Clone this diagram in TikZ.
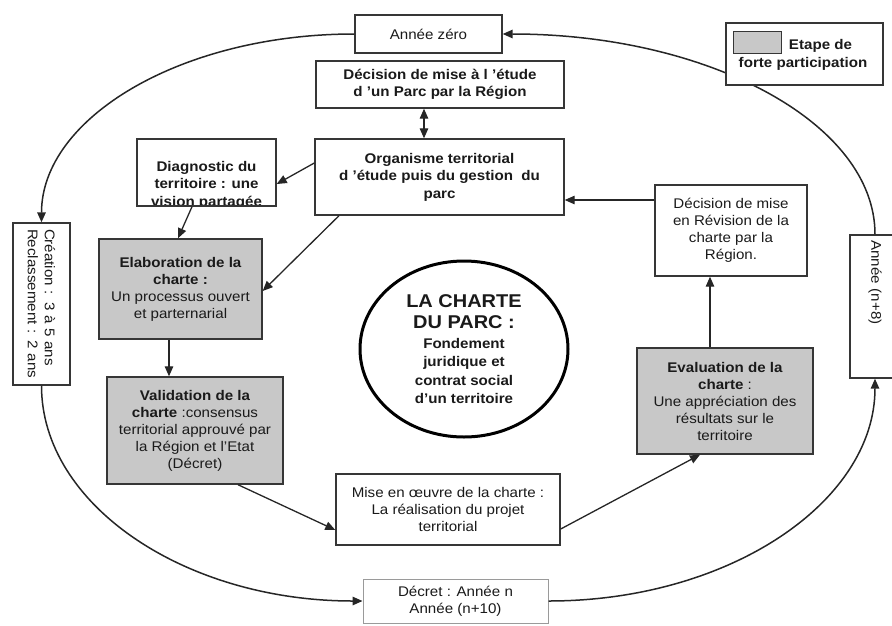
\documentclass[tikz,border=0pt]{standalone}
\usepackage{fontspec}
\setmainfont{Liberation Sans}[FakeStretch=1.08]
\usetikzlibrary{arrows.meta,shapes.geometric}

\definecolor{ink}{HTML}{1A1A1A}
\definecolor{wire}{HTML}{262626}
\definecolor{boxline}{HTML}{363636}
\definecolor{stepfill}{HTML}{C8C8C8}
\definecolor{softline}{HTML}{9A9A9A}

\begin{document}
\begin{tikzpicture}[x=1pt,y=-1pt,
  every node/.style={font=\fontsize{14}{17}\selectfont, text=ink},
  box/.style={draw=boxline, line width=1.4pt, fill=white, align=center, inner sep=2pt},
  stepbox/.style={box, fill=stepfill},
  bf/.style={font=\fontsize{14}{17.5}\selectfont\bfseries},
  tip/.style={-{Triangle[length=10pt,width=8.5pt]}},
  conn/.style={draw=wire, line width=1.3pt, tip},
  cyclearc/.style={draw=wire, line width=1.5pt, tip}
]
\useasboundingbox (0,0) rectangle (892,625);
\clip (0,0) rectangle (892,625);

% ---- milestones on the outer cycle
\node[box, minimum width=147, minimum height=38] (anno) at (428.5,34) {Année zéro};
\node[box, rotate=-90, minimum width=162, minimum height=57, text width=150, align=left]
  (crea) at (41.5,304) {Création : 3 à 5 ans\\Reclassement : 2 ans};
\node[box, draw=softline, line width=1pt, minimum width=185, minimum height=44]
  (decret) at (455.5,601) {Décret : Année n\\Année (n+10)};
\node[box, rotate=-90, minimum width=143, minimum height=50, text width=132, align=left]
  (n8) at (875,306.5) {Année (n+8)};

% ---- outer cycle (quarter-ellipse arcs between milestones)
\draw[cyclearc] (anno.west) .. controls +(-173,0) and +(0,-104.4) .. (crea.west);
\draw[cyclearc] (crea.east) .. controls +(0,119.3) and +(-177.6,0) .. (decret.west);
\draw[cyclearc] (decret.east) .. controls +(180.6,0) and +(0,123.2) .. (n8.east);
\draw[cyclearc] (n8.west) .. controls +(0,-111) and +(206,0) .. (anno.east);

% ---- steps
\node[box, bf, minimum width=248, minimum height=47] (etude) at (440,84.5)
  {Décision de mise à l 'étude\\d 'un Parc par la Région};
\node[box, bf, minimum width=249, minimum height=76] (org) at (439.5,177)
  {Organisme territorial\\d 'étude puis du gestion\ \ du\\parc};
\node[box, minimum width=139, minimum height=67,
  path picture={\node[bf, align=center, anchor=north, inner sep=2pt] (diagtxt)
    at ([yshift=-12pt]path picture bounding box.north)
    {Diagnostic du\\territoire : une\\vision partagée};}]
  (diag) at (206.5,172.5) {};
\node[stepbox, minimum width=163, minimum height=100] (elab) at (180.5,289)
  {\textbf{Elaboration de la}\\\textbf{charte :}\\Un processus ouvert\\et parternarial};
\node[stepbox, minimum width=176, minimum height=107] (valid) at (195,430.5)
  {\textbf{Validation de la}\\\textbf{charte} :consensus\\territorial approuvé par\\la Région et l'Etat\\(Décret)};
\node[box, minimum width=224, minimum height=71] (mise) at (448,509.5)
  {Mise en œuvre de la charte :\\La réalisation du projet\\territorial};
\node[stepbox, minimum width=176, minimum height=106] (eval) at (725,401)
  {\textbf{Evaluation de la}\\\textbf{charte} :\\Une appréciation des\\résultats sur le\\territoire};
\node[box, minimum width=152, minimum height=91] (rev) at (731,230.5)
  {Décision de mise\\en Révision de la\\charte par la\\Région.};

% ---- centre
\node[ellipse, draw=black, line width=3pt, fill=white, minimum width=208, minimum height=176,
  align=center, inner sep=0pt, font=\fontsize{14}{18.5}\selectfont\bfseries] (charte) at (464,349)
  {{\fontsize{18.5}{22}\selectfont LA CHARTE}\\[3pt]
   {\fontsize{18.5}{22}\selectfont DU PARC :}\\[1pt]
   Fondement\\juridique et\\contrat social\\d'un territoire};

% ---- legend
\node[draw=boxline, line width=1.2pt, fill=white, minimum width=157, minimum height=62] (legend) at (804.5,54) {};
\node[draw=boxline, fill=stepfill, line width=1pt, minimum width=48, minimum height=22, inner sep=0pt] (swatch) at (757,42) {};
\node[bf] (legtop) at (820.5,46) {Etape de};
\node[bf] (legbot) at (803,64) {forte participation};

% ---- connectors
\draw[draw=wire, line width=1.3pt, {Triangle[length=10pt,width=8.5pt]}-{Triangle[length=10pt,width=8.5pt]}]
  ([xshift=-16pt]etude.south) -- ([xshift=-16pt]etude.south |- org.north);
\draw[conn] ([yshift=14pt]org.west) -- ([yshift=-11.5pt]diag.east);
\draw[conn] ([xshift=-14.5pt]diag.south) -- ([xshift=-2.5pt]elab.north);
\draw[conn] ([xshift=-100.5pt]org.south) -- ([yshift=-2pt]elab.east);
\draw[conn] ([xshift=-11.5pt]elab.south) -- ([xshift=-11.5pt]elab.south |- valid.north);
\draw[conn] ([xshift=43pt]valid.south) -- ([yshift=-20.5pt]mise.west);
\draw[conn] ([yshift=-19.5pt]mise.east) -- ([xshift=-25pt]eval.south);
\draw[conn] ([xshift=-15pt]eval.north) -- ([xshift=-15pt]eval.north |- rev.south);
\draw[conn] ([yshift=30.5pt]rev.west) -- ([yshift=30.5pt]rev.west -| org.east);
\end{tikzpicture}
\end{document}
